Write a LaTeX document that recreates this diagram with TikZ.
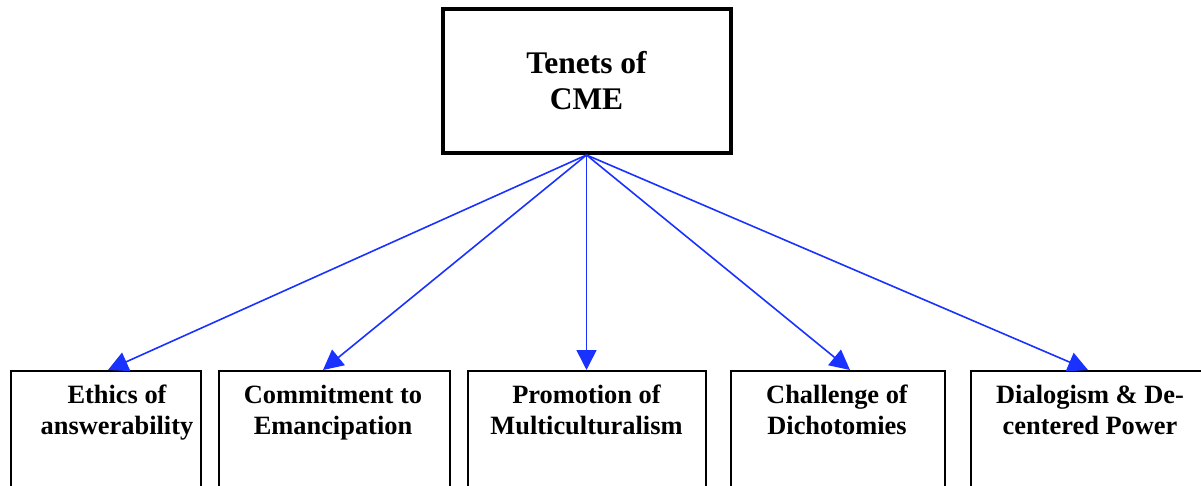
\documentclass[tikz,border=0pt]{standalone}
\usepackage{fontspec}
\setmainfont{Liberation Serif}
\usetikzlibrary{positioning,arrows.meta}
\definecolor{linkblue}{RGB}{25,50,255}
\tikzset{every picture/.style={line width=2pt}}

\begin{document}
\begin{tikzpicture}[x=1pt, y=-1pt,
    headbox/.style={draw, line width=4pt, minimum width=288pt, minimum height=144pt, align=center, font=\fontsize{31.5}{36}\selectfont\bfseries},
    tenetbox/.style={draw, anchor=north, minimum height=200pt},
    tenettext/.style={align=center, inner sep=0pt, font=\fontsize{26.4}{31}\selectfont\bfseries},
    link/.style={draw=linkblue, line width=1.6pt, -{Triangle[length=20pt, width=20pt]}}]
        \useasboundingbox (0,0) rectangle (1201,486);
        \node[headbox] (cme) at (586.5,81) {Tenets of\\CME};
        % the five tenets, cut off at the bottom
        \node[tenetbox, minimum width=190pt] (ethics) at (106,370) {};
        \node[tenetbox, minimum width=231pt] (emancip) at (334.5,370) {};
        \node[tenetbox, minimum width=238pt] (multi) at (586.5,370) {};
        \node[tenetbox, minimum width=214pt] (dicho) at (838,370) {};
        \node[tenetbox, minimum width=260pt] (dialog) at (1101,370) {};
        \node[tenettext, below=14pt of ethics.north, xshift=11pt] {Ethics of\\answerability};
        \node[tenettext, below=14pt of emancip.north, xshift=-1.5pt] {Commitment to\\Emancipation};
        \node[tenettext, below=14pt of multi.north] {Promotion of\\Multiculturalism};
        \node[tenettext, below=14pt of dicho.north, xshift=-1pt] {Challenge of\\Dichotomies};
        \node[tenettext, below=14pt of dialog.north, xshift=-11pt] {Dialogism \& De-\\centered Power};
        % links
        \draw[link] (cme.south) -- ([xshift=2pt]ethics.north);
        \draw[link] (cme.south) -- ([xshift=-11.5pt]emancip.north);
        \draw[link] (cme.south) -- (multi.north);
        \draw[link] (cme.south) -- ([xshift=12pt]dicho.north);
        \draw[link] (cme.south) -- ([xshift=-13pt]dialog.north);
    \end{tikzpicture}
\end{document}
